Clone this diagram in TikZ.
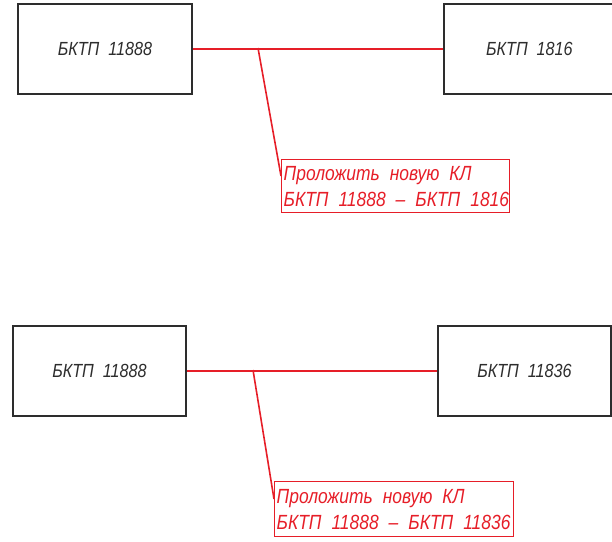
\documentclass[tikz,border=0pt]{standalone}
\usepackage{fontspec}
\newfontfamily\gost[FakeStretch=0.85]{Liberation Sans}
\newcommand\gsp{\hspace{10pt}}
\definecolor{lred}{RGB}{230,30,40}
\definecolor{dgray}{RGB}{45,45,45}
\begin{document}
\begin{tikzpicture}[x=1pt,y=-1pt,
  tpbox/.style={draw=dgray, line width=1.8pt, minimum width=174pt, minimum height=90pt,
    anchor=north west, inner sep=0pt, text=dgray, font=\gost\itshape\fontsize{19}{21}\selectfont},
  redlabel/.style={draw=lred, line width=1.4pt, anchor=north west, inner xsep=2pt, inner ysep=0pt,
    text=lred, align=left, font=\gost\itshape\fontsize{20.5}{26}\selectfont},
  cable/.style={draw=lred, line width=1.6pt}]
\useasboundingbox (0,0) rectangle (612,541);
% top pair
\node[tpbox] (a1) at (17,3) {БКТП~~11888};
\node[tpbox, minimum width=171pt] (b1) at (443,3) {БКТП~~1816};
\node[redlabel, minimum width=228pt, minimum height=53pt, text width=224pt] (l1) at (281,159)
  {\mbox{Проложить\gsp новую\gsp КЛ}\\\mbox{БКТП\gsp 11888\gsp –\gsp БКТП\gsp 1816}};
\draw[cable] (a1.east) -- (b1.west);
\coordinate (j1) at (258,48);
\draw[cable] (j1) -- ([yshift=-17pt]l1.north west);
% bottom pair
\node[tpbox, minimum width=173pt, minimum height=90pt] (a2) at (12,325) {БКТП~~11888};
\node[tpbox, minimum width=173pt, minimum height=90pt] (b2) at (437,325) {БКТП~~11836};
\node[redlabel, minimum width=239pt, minimum height=55pt, text width=235pt] (l2) at (274,481)
  {\mbox{Проложить\gsp новую\gsp КЛ}\\\mbox{БКТП\gsp 11888\gsp –\gsp БКТП\gsp 11836}};
\draw[cable] (a2.east) -- (b2.west);
\coordinate (j2) at (253,370);
\draw[cable] (j2) -- ([yshift=-18pt]l2.north west);
\end{tikzpicture}
\end{document}
